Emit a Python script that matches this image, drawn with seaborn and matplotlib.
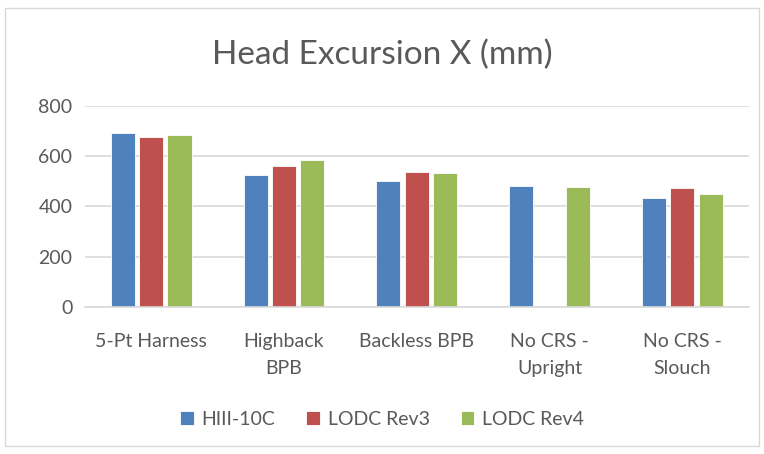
import numpy as np
import pandas as pd
import matplotlib
matplotlib.use('Agg')
import matplotlib.pyplot as plt
import seaborn as sns

# datos
categorias = ['5-Pt Harness', 'Highback\nBPB', 'Backless BPB', 'No CRS -\nUpright', 'No CRS -\nSlouch']
series = ['HIII-10C', 'LODC Rev3', 'LODC Rev4']
hiii_10c = [692, 523, 502, 482, 435]
lodc_rev3 = [676, 559, 535, np.nan, 473]
lodc_rev4 = [682, 583, 531, 477, 449]
colores = ['#4F81BD', '#C0504D', '#9BBB59']

df = pd.DataFrame({
    'Categoria': categorias * 3,
    'Serie': [series[0]] * 5 + [series[1]] * 5 + [series[2]] * 5,
    'Valor': hiii_10c + lodc_rev3 + lodc_rev4,
})

sns.set_theme(style='white')
plt.rcParams['font.family'] = ['Lato', 'DejaVu Sans']
texto = '#595959'

fig = plt.figure(figsize=(7.64, 4.54), dpi=100)
ax = fig.add_axes([0.111, 0.324, 0.869, 0.443])

sns.barplot(data=df, x='Categoria', y='Valor', hue='Serie', palette=colores,
            saturation=1, width=0.64, gap=0.15, ax=ax, legend=True,
            edgecolor='white', linewidth=0.6)

ax.set_ylim(0, 800)
ax.set_yticks([0, 200, 400, 600, 800])
ax.yaxis.grid(True, color='#D9D9D9', linewidth=1.2)
ax.set_axisbelow(True)
for s in ['top', 'right', 'left']:
    ax.spines[s].set_visible(False)
ax.spines['bottom'].set_color('#D9D9D9')
ax.spines['bottom'].set_linewidth(1.2)
ax.tick_params(axis='y', length=0, labelsize=14, colors=texto, pad=9)
ax.tick_params(axis='x', length=0, labelsize=14, colors=texto, pad=19)
for lbl in ax.get_xticklabels():
    lbl.set_linespacing(1.7)
ax.set_xlabel('')
ax.set_ylabel('')

fig.suptitle('Head Excursion X (mm)', x=0.5, y=0.912, fontsize=24, color=texto)

ax.legend(loc='center', bbox_to_anchor=(0.5, 0.077), bbox_transform=fig.transFigure,
          ncol=3, frameon=False, fontsize=14, labelcolor=texto,
          handlelength=0.7, handleheight=0.7, handletextpad=0.4, columnspacing=1.6)

# borde del grafico
fig.patches.append(plt.Rectangle((0.007, 0.018), 0.986, 0.965, transform=fig.transFigure,
                                 fill=False, edgecolor='#D9D9D9', linewidth=1))

plt.savefig('out.png', dpi=100)
plt.close()
